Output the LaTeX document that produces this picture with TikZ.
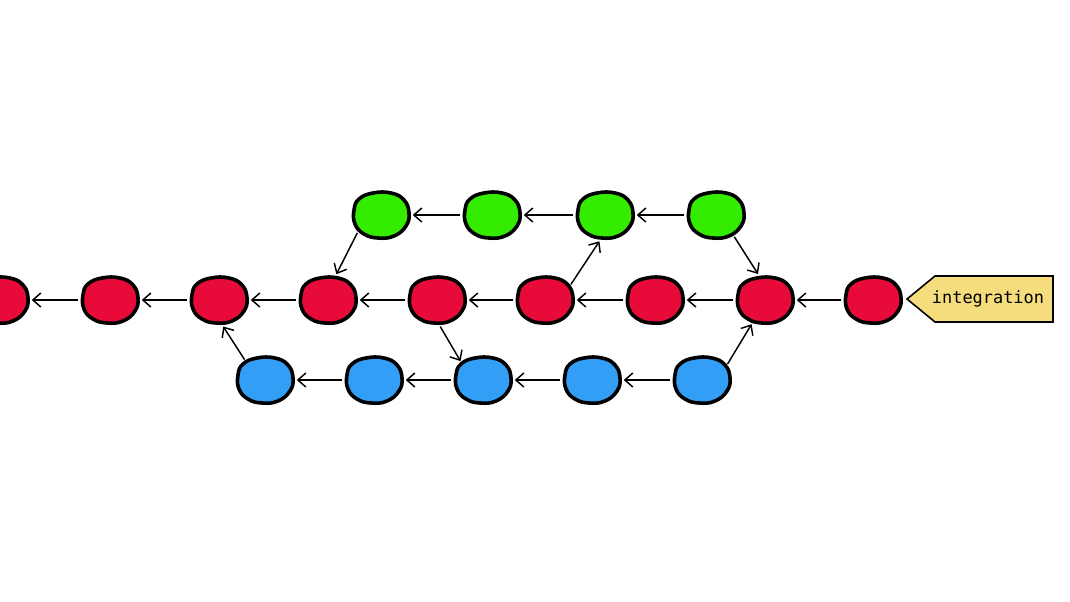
\documentclass[tikz,border=0pt]{standalone}
\usepackage{fontspec}
\newfontfamily\tagfont{DejaVu Sans Mono}
\usetikzlibrary{arrows.meta,shapes.geometric}
\definecolor{cred}{HTML}{E80B3A}
\definecolor{cgreen}{HTML}{33EC00}
\definecolor{cblue}{HTML}{339EF5}
\definecolor{ctag}{HTML}{F5DC7C}
\tikzset{
  anchorpt/.style={ellipse, minimum width=42pt, minimum height=34.5pt, inner sep=0pt, outer sep=2.8pt},
  blobline/.style={line width=2.7pt, line join=round},
  edge/.style={line width=1.1pt, -{Straight Barb[length=6pt,width=10.5pt]}},
  tagline/.style={line width=1.2pt, line join=miter, fill=ctag},
}
\begin{document}
\begin{tikzpicture}[x=0.75pt,y=-0.75pt]
\useasboundingbox (0,0) rectangle (1070,601);
% commit positions
\foreach \n/\x in {r0/0,r1/110,r2/219,r3/328,r4/437,r5/545,r6/655,r7/765,r8/873}
  \node[anchorpt] (\n) at (\x,300) {};
\foreach \n/\x in {g1/381,g2/492,g3/605,g4/716}
  \node[anchorpt] (\n) at (\x,215) {};
\foreach \n/\x in {b1/265,b2/374,b3/483,b4/592,b5/702}
  \node[anchorpt] (\n) at (\x,380) {};
% blobs
\foreach \n/\c in {r0/cred,r1/cred,r2/cred,r3/cred,r4/cred,r5/cred,r6/cred,r7/cred,r8/cred,
                   g1/cgreen,g2/cgreen,g3/cgreen,g4/cgreen,
                   b1/cblue,b2/cblue,b3/cblue,b4/cblue,b5/cblue}
  \draw[blobline, fill=\c, shift={(\n.center)}]
    plot[smooth cycle, tension=0.75] coordinates
    {(-27,-5) (-22,-16) (-8,-22) (10,-22) (23,-15) (28,-2) (25,11) (13,21) (-3,23) (-17,19) (-26,9)};
% main line
\draw[edge] (r8) -- (r7);
\draw[edge] (r7) -- (r6);
\draw[edge] (r6) -- (r5);
\draw[edge] (r5) -- (r4);
\draw[edge] (r4) -- (r3);
\draw[edge] (r3) -- (r2);
\draw[edge] (r2) -- (r1);
\draw[edge] (r1) -- (r0);
% green branch
\draw[edge] (g4) -- (g3);
\draw[edge] (g3) -- (g2);
\draw[edge] (g2) -- (g1);
\draw[edge] (g1.217) -- (r3.72);
\draw[edge] (g4.310) -- (r7.105);
\draw[edge] (r5.31) -- (g3.258);
% blue branch
\draw[edge] (b5) -- (b4);
\draw[edge] (b4) -- (b3);
\draw[edge] (b3) -- (b2);
\draw[edge] (b2) -- (b1);
\draw[edge] (b1.135) -- (r2.279);
\draw[edge] (r4.277) -- (b3.140);
\draw[edge] (b5.32) -- (r7.241);
% tag
\draw[tagline] (935,276) -- (1053,276) -- (1053,322) -- (935,322) -- (907,299) -- cycle;
\node[inner sep=0pt] (tag) at (988,299) {\tagfont\fontsize{12.7}{14}\selectfont integration};
\end{tikzpicture}
\end{document}
